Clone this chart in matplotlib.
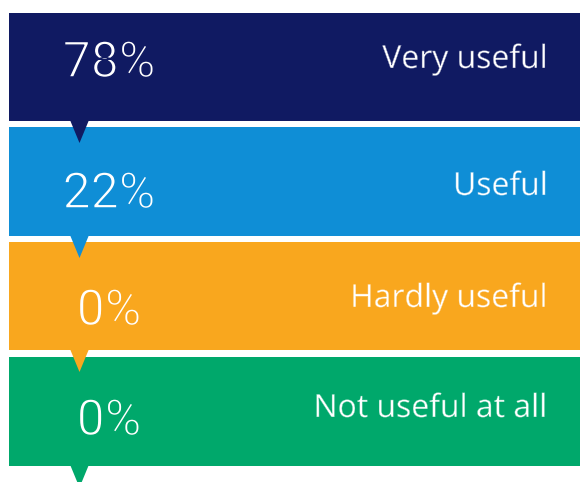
import matplotlib
matplotlib.use("Agg")
import matplotlib.pyplot as plt
from matplotlib.patches import Polygon
import matplotlib.patheffects as pe

categories = ["Very useful", "Useful", "Hardly useful", "Not useful at all"]
percents = [78, 22, 0, 0]
colors = ["#101A62", "#0F8ED6", "#F9A71E", "#00A86B"]

W, H = 580, 482
fig = plt.figure(figsize=(W / 100, H / 100), dpi=100)
ax = fig.add_axes([0, 0, 1, 1])
ax.set_xlim(0, W)
ax.set_ylim(H, 0)
ax.axis("off")

band_top = [12.5, 127, 241.5, 357]
band_h = [108.5, 109, 108.5, 108.5]
left = 8.5
pct_base = [77, 208, 325, 435]
lab_base = [68, 195, 307, 417]
tri_cx, tri_w, tri_h = 79.5, 19, 22

for i, (cat, p, c) in enumerate(zip(categories, percents, colors)):
    top, h = band_top[i], band_h[i]
    ax.barh(top + h / 2, W - left, height=h, left=left, color=c, edgecolor="none", zorder=1)
    bot = top + h
    ax.add_patch(Polygon([[tri_cx - tri_w / 2, bot - 1], [tri_cx + tri_w / 2, bot - 1],
                          [tri_cx, bot + tri_h]], closed=True, color=c, lw=0, zorder=3))
    ax.text(109, pct_base[i], f"{p}%", color="white", ha="center", va="baseline",
            fontsize=36, family="Roboto", fontweight="normal", zorder=4,
            path_effects=[pe.Normal(), pe.Stroke(linewidth=1.1, foreground=c)])
    ax.text(548, lab_base[i], cat, color="white", ha="right", va="baseline",
            fontsize=23, family="Open Sans", zorder=4,
            path_effects=[pe.Normal(), pe.Stroke(linewidth=0.3, foreground=c)])

fig.savefig("out.png", dpi=100)
